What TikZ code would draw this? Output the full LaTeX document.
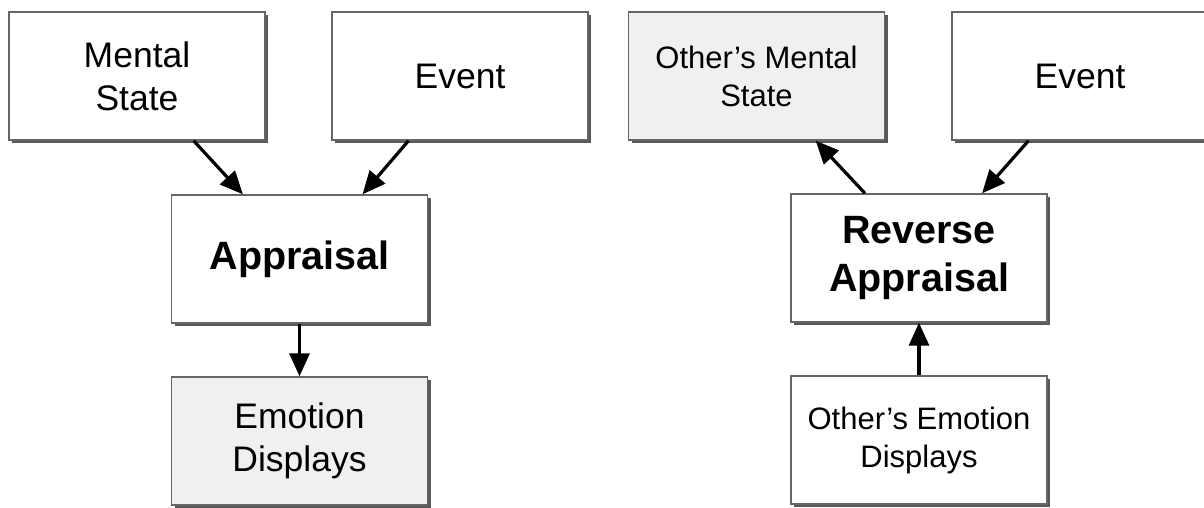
\documentclass[tikz,border=0pt]{standalone}
\usepackage{fontspec}
\setmainfont{Liberation Sans}
\usetikzlibrary{arrows.meta,shadows,calc}
\tikzset{
  box/.style={draw=black!60, line width=1.4pt, minimum width=256pt, minimum height=128pt,
    inner sep=0pt, align=center, fill=white,
    drop shadow={shadow xshift=3pt, shadow yshift=-3pt, fill=black!65, opacity=1}},
  shaded/.style={fill=black!6},
  big/.style={font=\fontsize{35.5}{43}\selectfont},
  small/.style={font=\fontsize{31}{38}\selectfont},
  bold/.style={font=\fontsize{39.5}{48}\selectfont\bfseries},
  conn/.style={line width=3.2pt, -{Triangle[length=23pt,width=20pt]}}
}
\begin{document}
\begin{tikzpicture}[x=1pt,y=-1pt]
\useasboundingbox (0,0) rectangle (1204,507);
\node[box,big] (ms) at (137,76) {Mental\\State};
\node[box,big] (ev1) at (460,76) {Event};
\node[box,bold] (ap) at (299.5,259) {Appraisal};
\node[box,big,shaded] (ed) at (299.5,441) {Emotion\\Displays};
\node[box,small,shaded] (om) at (756.5,76) {Other’s Mental\\State};
\node[box,big] (ev2) at (1080,76) {Event};
\node[box,bold] (ra) at (919,258) {Reverse\\Appraisal};
\node[box,small] (oe) at (919,440) {Other’s Emotion\\Displays};

\draw[conn] ($(ms.south west)!0.72!(ms.south east)$) -- ($(ap.north west)!0.28!(ap.north east)$);
\draw[conn] ($(ev1.south west)!0.30!(ev1.south east)$) -- ($(ap.north west)!0.745!(ap.north east)$);
\draw[conn] (ap.south) -- (ed.north);
\draw[conn] ($(ra.north west)!0.29!(ra.north east)$) -- ($(om.south west)!0.73!(om.south east)$);
\draw[conn] ($(ev2.south west)!0.30!(ev2.south east)$) -- ($(ra.north west)!0.745!(ra.north east)$);
\draw[conn] (oe.north) -- (ra.south);
\end{tikzpicture}
\end{document}
